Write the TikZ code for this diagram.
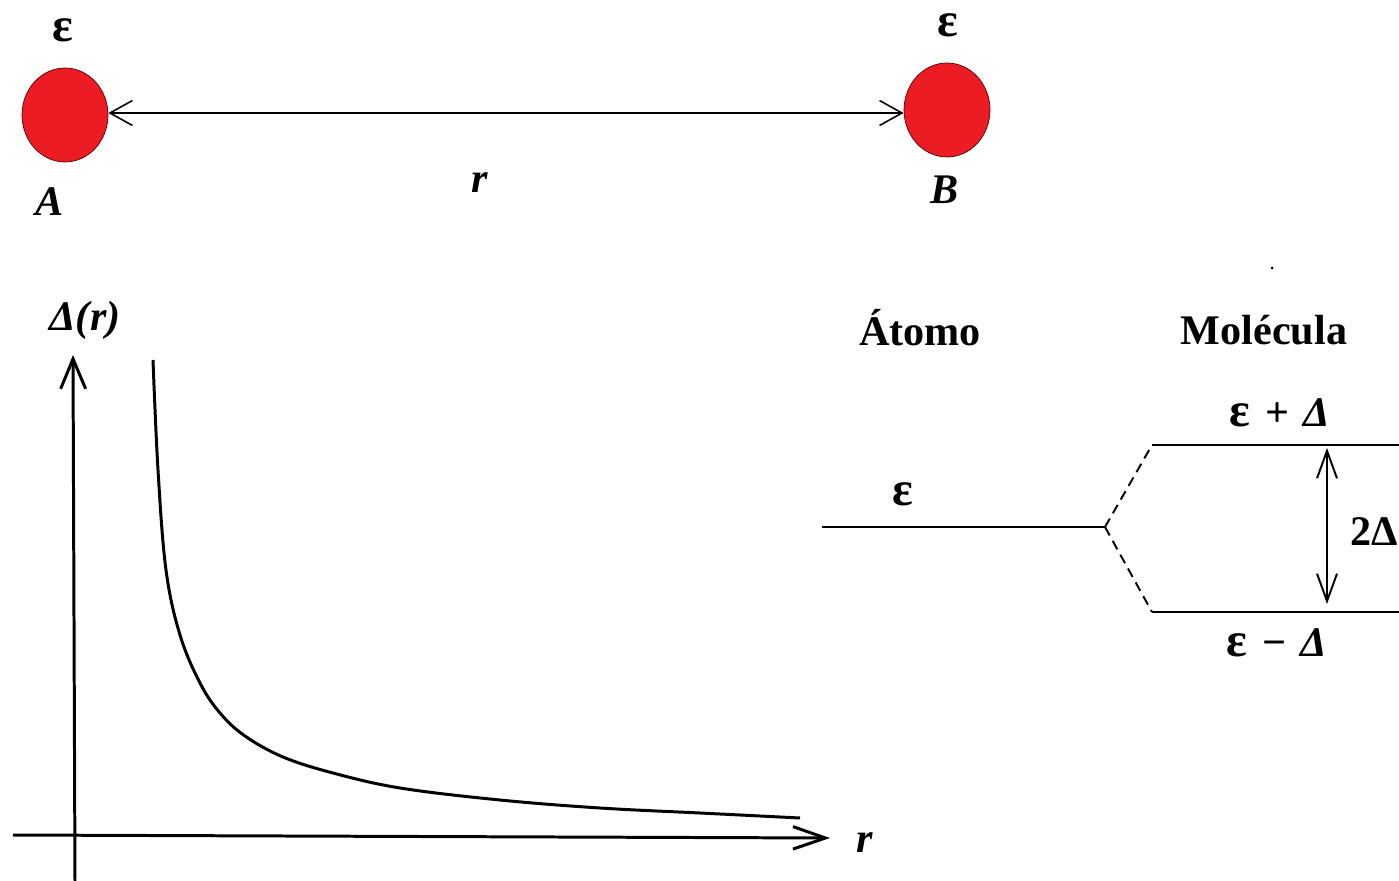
\documentclass[tikz,border=0pt]{standalone}
\usepackage{fontspec}
\setmainfont{Liberation Serif}
\usepackage{tikz}
\usetikzlibrary{shapes, arrows.meta, positioning}
\definecolor{atomRed}{RGB}{236, 28, 36}

\begin{document}
\begin{tikzpicture}[x=0.02cm, y=-0.02cm,
	atom_dot/.style  = {draw=red!35!black, ellipse, fill=atomRed, thin,
		minimum width=1.72cm, minimum height=1.88cm, inner sep=0pt},
	lbl/.style       = {inner sep=0pt, font=\fontsize{24}{28}\selectfont\bfseries},
	lbl_it/.style    = {inner sep=0pt, font=\fontsize{24}{28}\selectfont\bfseries\itshape},
	dist_line/.style = {{Straight Barb[length=0.45cm, width=0.5cm]}-{Straight Barb[length=0.45cm, width=0.5cm]},
		line width=0.9pt},
	axis_line/.style = {-{Straight Barb[length=0.65cm, width=0.45cm]}, line width=1.7pt},
	gap_line/.style  = {{Straight Barb[length=0.55cm, width=0.4cm]}-{Straight Barb[length=0.55cm, width=0.4cm]},
		line width=1.1pt},
	level/.style     = {line width=1.7pt},
	split/.style     = {line width=1.1pt, dash pattern=on 5.5pt off 3.5pt}
	]
	\useasboundingbox (0,0) rectangle (1399,881);
	\clip (0,0) rectangle (1399,881);
	
	% two atoms at distance r
	\node[atom_dot] (atomA) at (65,115) {};
	\node[atom_dot] (atomB) at (947,110) {};
	\node[lbl, scale=1.15] (epsA) at (63,30) {ε};
	\node[lbl, scale=1.15] (epsB) at (948,25) {ε};
	\node[lbl_it] (labA) at (50,202) {A};
	\node[lbl_it] (labB) at (945,190) {B};
	\draw[dist_line] ([yshift=0.04cm]atomA.east) -- ([yshift=0.04cm]atomA.east -| atomB.west);
	\node[lbl_it] (dist_r) at (480,183) {r};
	
	\fill (1272,268) circle (1.5);
	
	% graph of Delta(r)
	\coordinate (y_bot) at (75,881);
	\coordinate (y_top) at (73,355);
	\coordinate (x_left) at (13,835);
	\coordinate (x_right) at (830,838);
	\draw[axis_line, -{Straight Barb[length=0.6cm, width=0.5cm]}] (y_bot) -- (y_top);
	\draw[axis_line] (x_left) -- (x_right);
	\node[lbl_it] (delta_r) at (85,320) {Δ(r)};
	\node[lbl_it] (axis_r) at (865,843) {r};
	\draw[line width=1.7pt] plot[smooth, tension=0.6] coordinates {(153,360) (158,470) (166,570)
		(180,635) (200,683) (220,713) (245,736) (283,757) (333,773) (400,788) (500,800)
		(600,808) (700,813) (800,818)};
	
	% energy levels
	\node[lbl] (atomo) at (920,328) {Átomo};
	\node[lbl] (molecula) at (1264,330) {Molécula};
	\coordinate (atom_lvl) at (822,527);
	\coordinate (split_pt) at (1105,527);
	\coordinate (up_lvl) at (1152,445);
	\coordinate (low_lvl) at (1152,612);
	\draw[level] (atom_lvl) -- (split_pt);
	\draw[level] (up_lvl) -- (1420,445);
	\draw[level] (low_lvl) -- (1420,612);
	\draw[split] (split_pt) -- (up_lvl);
	\draw[split] (split_pt) -- (low_lvl);
	\node[lbl, scale=1.15] (eps_atom) at (903,494) {ε};
	\node[lbl] (eps_up) at (1280,413) {\scalebox{1.15}{ε}\hspace{0.35em}+\hspace{0.35em}\textit{Δ}};
	\node[lbl] (eps_low) at (1277,643) {\scalebox{1.15}{ε}\hspace{0.35em}−\hspace{0.35em}\textit{Δ}};
	\coordinate (gap_top) at (1327,448);
	\coordinate (gap_bot) at (1327,604);
	\draw[gap_line] (gap_top) -- (gap_bot);
	\node[lbl, anchor=west] (gap) at (1350,532) {2Δ};
\end{tikzpicture}
\end{document}
